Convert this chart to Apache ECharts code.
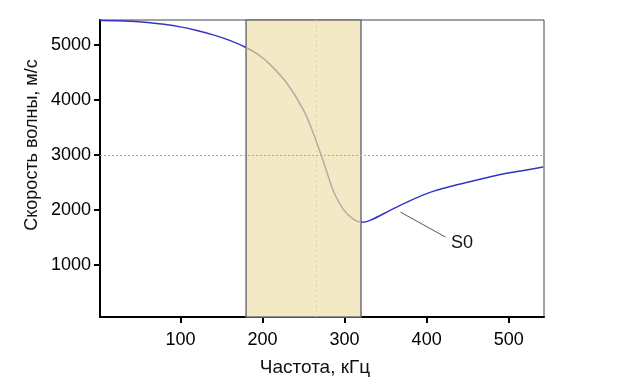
<!DOCTYPE html>
<html><head><meta charset="utf-8">
<script src="https://cdn.jsdelivr.net/npm/echarts@6/dist/echarts.min.js"></script>
<style>html,body{margin:0;padding:0;background:#fff}#c{width:624px;height:388px}</style>
</head><body><div id="c"></div>
<script>
// Frequency (kHz) and S0 wave speed (m/s)
const freq  = [2, 20, 40, 60, 80, 100, 120, 140, 160, 180, 195, 210, 230, 250, 262, 271, 279, 287, 299, 311, 321, 332, 356, 380, 405, 430, 450, 470, 490, 520, 542];
const speed = [5441, 5438, 5428, 5405, 5372, 5325, 5260, 5180, 5080, 4950, 4820, 4630, 4297, 3813, 3390, 3014, 2663, 2320, 2000, 1828, 1774, 1815, 1997, 2170, 2324, 2430, 2503, 2575, 2642, 2722, 2778];
const xTicks = [100, 200, 300, 400, 500];
const yTicks = [1000, 2000, 3000, 4000, 5000];
const band = [180, 320];
const refFreq = 265;
const refSpeed = 3000;
const leader = [[368, 1961], [423, 1507]];
const labelPos = [443, 1398];
const labelText = 'S0';
const xTitle = 'Частота, кГц';
const yTitle = 'Скорость волны, м/с';

const data = freq.map((f, i) => [f, speed[i]]);
const font = 'Liberation Sans, Arial, sans-serif';
const chart = echarts.init(document.getElementById('c'), null, {renderer: 'canvas'});
chart.setOption({
  animation: false,
  grid: {left: 100, right: 80, top: 20, bottom: 71, show: true, borderColor: '#444', borderWidth: 1, backgroundColor: 'transparent'},
  graphic: [
    {type: 'text', x: 315, y: 368, style: {text: xTitle, font: '19px ' + font, fill: '#111', align: 'center', verticalAlign: 'middle'}},
    {type: 'text', x: 32, y: 145, rotation: Math.PI / 2, style: {text: yTitle, font: '18px ' + font, fill: '#111', align: 'center', verticalAlign: 'middle'}}
  ],
  xAxis: {
    type: 'value', min: 2, max: 543,
    axisLine: {lineStyle: {color: '#000', width: 2}},
    axisTick: {customValues: xTicks, length: 6, lineStyle: {color: '#000', width: 2}},
    axisLabel: {customValues: xTicks, fontFamily: font, fontSize: 18, color: '#000', margin: 14, formatter: v => String(v)},
    splitLine: {show: false}
  },
  yAxis: {
    type: 'value', min: 55, max: 5450,
    axisLine: {lineStyle: {color: '#000', width: 2}},
    axisTick: {customValues: yTicks, length: 6, lineStyle: {color: '#000', width: 2}},
    axisLabel: {customValues: yTicks, fontFamily: font, fontSize: 18, color: '#000', margin: 9, formatter: v => String(v)},
    splitLine: {show: false}
  },
  visualMap: {
    show: false, type: 'piecewise', dimension: 0, seriesIndex: 0,
    pieces: [{lt: band[0], color: '#3434c4'}, {gte: band[0], lte: band[1], color: '#b3aca3'}, {gt: band[1], color: '#3434c4'}]
  },
  series: [{
    type: 'line', data: data, smooth: 0.35, showSymbol: false, symbol: 'none',
    lineStyle: {width: 1.5},
    z: 5,
    markArea: {
      silent: true,
      itemStyle: {color: '#f3eac5', borderColor: '#707070', borderWidth: 1.5},
      data: [[{xAxis: band[0]}, {xAxis: band[1]}]]
    },
    markLine: {
      silent: true, symbol: 'none', label: {show: false},
      data: [
        {xAxis: refFreq, lineStyle: {color: '#ddd3ad', type: [2, 3], width: 1}},
        {yAxis: refSpeed, lineStyle: {color: '#aaa', type: [2, 2], width: 1}}
      ]
    }
  }, {
    type: 'line', data: leader, showSymbol: false, symbol: 'none',
    lineStyle: {color: '#555', width: 1}, z: 4,
    markPoint: {
      symbol: 'circle', symbolSize: 1, itemStyle: {color: 'transparent'},
      label: {show: true, formatter: labelText, fontFamily: font, fontSize: 18, color: '#111', position: 'inside'},
      data: [{coord: labelPos}]
    }
  }]
});
</script></body></html>
